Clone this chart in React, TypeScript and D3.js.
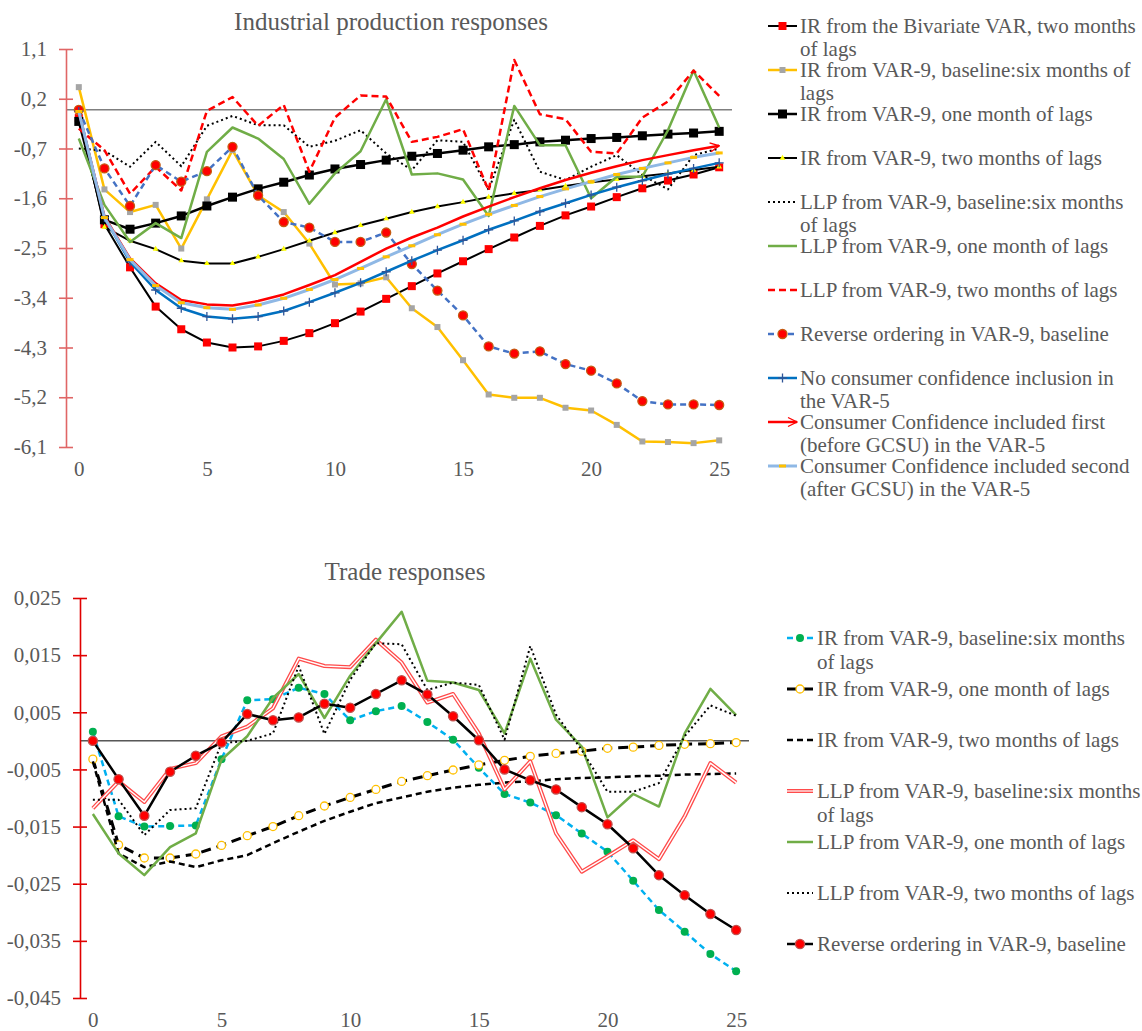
import * as d3 from "d3";
import React, { useEffect, useRef } from "react";

// horizon in months
const horizon = d3.range(0, 26);

// ---- Industrial production responses ----
const ipTicks = [1.1, 0.2, -0.7, -1.6, -2.5, -3.4, -4.3, -5.2, -6.1];
const ipBivariate = [-0.15, -2.07, -2.85, -3.56, -3.97, -4.21, -4.30, -4.28, -4.18, -4.04, -3.86, -3.65, -3.42, -3.19, -2.96, -2.74, -2.52, -2.31, -2.10, -1.91, -1.75, -1.58, -1.42, -1.28, -1.17, -1.04];
const ipVar9Six = [0.41, -1.44, -1.85, -1.72, -2.51, -1.62, -0.73, -1.55, -1.85, -2.42, -3.16, -3.14, -3.03, -3.59, -3.93, -4.53, -5.15, -5.21, -5.21, -5.39, -5.44, -5.70, -6.00, -6.01, -6.03, -5.98];
const ipVar9One = [-0.21, -1.99, -2.16, -2.05, -1.92, -1.74, -1.58, -1.43, -1.31, -1.18, -1.07, -0.99, -0.91, -0.84, -0.79, -0.73, -0.67, -0.63, -0.58, -0.55, -0.52, -0.50, -0.47, -0.44, -0.42, -0.39];
const ipVar9Two = [-0.05, -2.12, -2.37, -2.52, -2.73, -2.78, -2.78, -2.66, -2.52, -2.37, -2.22, -2.09, -1.97, -1.85, -1.75, -1.67, -1.58, -1.51, -1.45, -1.38, -1.31, -1.26, -1.20, -1.15, -1.09, -1.03];
const ipLlpSix = [-0.70, -0.74, -1.03, -0.58, -1.02, -0.29, -0.11, -0.28, -0.28, -0.67, -0.56, -0.37, -0.79, -1.09, -0.55, -0.58, -1.45, -0.18, -1.12, -1.27, -1.03, -0.82, -1.18, -1.44, -0.82, -0.70];
const ipLlpOne = [-0.52, -1.72, -2.39, -2.05, -2.32, -0.76, -0.32, -0.52, -0.89, -1.70, -1.15, -0.75, 0.19, -1.17, -1.15, -1.26, -1.92, 0.07, -0.64, -0.64, -1.60, -1.21, -1.21, -0.37, 0.71, -0.32];
const ipLlpTwo = [-0.34, -0.73, -1.52, -1.03, -1.46, -0.02, 0.23, -0.29, 0.09, -1.12, -0.14, 0.26, 0.24, -0.58, -0.49, -0.35, -1.46, 0.90, -0.08, -0.17, -0.76, -0.79, -0.14, 0.15, 0.71, 0.25];
const ipReverse = [0.0, -1.06, -1.74, -1.00, -1.30, -1.11, -0.67, -1.55, -2.03, -2.13, -2.39, -2.39, -2.22, -2.79, -3.27, -3.72, -4.28, -4.41, -4.37, -4.60, -4.72, -4.95, -5.27, -5.33, -5.33, -5.34];
const ipNoCC = [-0.03, -1.95, -2.75, -3.26, -3.59, -3.74, -3.78, -3.74, -3.64, -3.48, -3.31, -3.13, -2.93, -2.73, -2.54, -2.36, -2.17, -2.01, -1.84, -1.69, -1.54, -1.40, -1.28, -1.16, -1.06, -0.96];
const ipCCFirst = [-0.03, -1.93, -2.69, -3.14, -3.44, -3.52, -3.54, -3.46, -3.34, -3.17, -2.99, -2.75, -2.51, -2.31, -2.13, -1.93, -1.75, -1.58, -1.42, -1.27, -1.14, -1.02, -0.91, -0.82, -0.73, -0.65];
const ipCCSecond = [-0.03, -1.95, -2.71, -3.18, -3.49, -3.58, -3.61, -3.53, -3.41, -3.25, -3.07, -2.87, -2.66, -2.46, -2.26, -2.07, -1.89, -1.73, -1.57, -1.43, -1.30, -1.17, -1.06, -0.96, -0.86, -0.78];

// ---- Trade responses ----
const trTicks = [0.025, 0.015, 0.005, -0.005, -0.015, -0.025, -0.035, -0.045];
const trIrSix = [0.0016, -0.0132, -0.0150, -0.0149, -0.0148, -0.0032, 0.0071, 0.0073, 0.0093, 0.0082, 0.0036, 0.0052, 0.0061, 0.0033, 0.0002, -0.0047, -0.0093, -0.0108, -0.0130, -0.0162, -0.0194, -0.0245, -0.0296, -0.0334, -0.0373, -0.0403];
const trIrOne = [-0.0032, -0.0182, -0.0205, -0.0205, -0.0198, -0.0183, -0.0166, -0.0150, -0.0131, -0.0114, -0.0099, -0.0085, -0.0071, -0.0061, -0.0051, -0.0042, -0.0034, -0.0027, -0.0022, -0.0018, -0.0013, -0.0011, -0.0008, -0.0006, -0.0005, -0.0003];
const trIrTwo = [-0.0036, -0.0197, -0.0221, -0.0211, -0.0221, -0.0209, -0.0200, -0.0179, -0.0159, -0.0140, -0.0124, -0.0109, -0.0099, -0.0089, -0.0082, -0.0077, -0.0073, -0.0071, -0.0067, -0.0065, -0.0064, -0.0062, -0.0061, -0.0059, -0.0058, -0.0057];
const trLlpSix = [-0.0118, -0.0071, -0.0107, -0.0049, -0.0039, 0.0008, 0.0025, 0.0057, 0.0144, 0.0131, 0.0129, 0.0177, 0.0137, 0.0067, 0.0082, 0.0013, -0.0085, -0.0036, -0.0162, -0.0229, -0.0202, -0.0174, -0.0207, -0.0132, -0.0039, -0.0073];
const trLlpOne = [-0.0128, -0.0197, -0.0235, -0.0186, -0.0162, -0.0033, 0.0008, 0.0075, 0.0117, 0.0040, 0.0114, 0.0171, 0.0226, 0.0105, 0.0102, 0.0089, 0.0013, 0.0144, 0.0037, -0.0010, -0.0134, -0.0093, -0.0115, 0.0013, 0.0091, 0.0045];
const trLlpTwo = [-0.0103, -0.0103, -0.0165, -0.0121, -0.0118, -0.0004, 0.0000, 0.0013, 0.0131, 0.0012, 0.0107, 0.0171, 0.0169, 0.0089, 0.0102, 0.0098, 0.0002, 0.0166, 0.0046, -0.0016, -0.0089, -0.0089, -0.0074, 0.0008, 0.0062, 0.0044];
const trReverse = [0.0, -0.0067, -0.0131, -0.0054, -0.0026, -0.0003, 0.0047, 0.0036, 0.0041, 0.0065, 0.0058, 0.0082, 0.0106, 0.0081, 0.0043, 0.0001, -0.0050, -0.0069, -0.0085, -0.0116, -0.0146, -0.0188, -0.0235, -0.0270, -0.0303, -0.0331];

const xTicks = [0, 5, 10, 15, 20, 25];

const FONT = "'Liberation Serif', 'Times New Roman', serif";
const TEXT = "#595959";

type Series = {
  label: string[];
  values: number[];
  color: string;
  width: number;
  dash?: string;
  compound?: boolean;
  arrow?: boolean;
  marker?: { type: string; size: number; fill: string; stroke?: string };
};

const ipSeries: Series[] = [
  { label: ["IR from the Bivariate VAR, two months", "of lags"], values: ipBivariate, color: "#000000", width: 2, marker: { type: "square", size: 8, fill: "#FF0000" } },
  { label: ["IR from VAR-9, baseline:six months of", "lags"], values: ipVar9Six, color: "#FFC000", width: 2.5, marker: { type: "square", size: 6, fill: "#A5A5A5" } },
  { label: ["IR from VAR-9, one month of lags"], values: ipVar9One, color: "#000000", width: 2.5, marker: { type: "square", size: 9, fill: "#000000" } },
  { label: ["IR from VAR-9, two months of lags"], values: ipVar9Two, color: "#000000", width: 2, marker: { type: "triangle", size: 14, fill: "#FFFF00" } },
  { label: ["LLP from VAR-9, baseline:six months", "of lags"], values: ipLlpSix, color: "#000000", width: 2, dash: "2,3" },
  { label: ["LLP from VAR-9, one month of lags"], values: ipLlpOne, color: "#70AD47", width: 2.5 },
  { label: ["LLP from VAR-9, two months of lags"], values: ipLlpTwo, color: "#FF0000", width: 2.5, dash: "7,4" },
  { label: ["Reverse ordering in VAR-9, baseline"], values: ipReverse, color: "#4472C4", width: 2.5, dash: "6,4", marker: { type: "circle", size: 4.5, fill: "#FF0000", stroke: "#C55A11" } },
  { label: ["No consumer confidence inclusion in", "the VAR-5"], values: ipNoCC, color: "#0070C0", width: 2.5, marker: { type: "plus", size: 4.5, fill: "none", stroke: "#2F5597" } },
  { label: ["Consumer Confidence included first", "(before GCSU) in the VAR-5"], values: ipCCFirst, color: "#FF0000", width: 2.5, arrow: true },
  { label: ["Consumer Confidence included second", "(after GCSU) in the VAR-5"], values: ipCCSecond, color: "#8FB8E5", width: 3, marker: { type: "dash", size: 7, fill: "#FFC000" } },
];

const trSeries: Series[] = [
  { label: ["IR from VAR-9, baseline:six months", "of lags"], values: trIrSix, color: "#00B0F0", width: 2.5, dash: "6,4", marker: { type: "circle", size: 4, fill: "#00B050" } },
  { label: ["IR from VAR-9, one month of lags"], values: trIrOne, color: "#000000", width: 3, dash: "10,6", marker: { type: "circle", size: 4, fill: "#FFFFFF", stroke: "#FFC000" } },
  { label: ["IR from VAR-9, two months of lags"], values: trIrTwo, color: "#000000", width: 2.5, dash: "6,4" },
  { label: ["LLP from VAR-9, baseline:six months", "of lags"], values: trLlpSix, color: "#FF4B4B", width: 4, compound: true },
  { label: ["LLP from VAR-9, one month of lags"], values: trLlpOne, color: "#70AD47", width: 2.5 },
  { label: ["LLP from VAR-9, two months of lags"], values: trLlpTwo, color: "#000000", width: 2, dash: "2,3" },
  { label: ["Reverse ordering in VAR-9, baseline"], values: trReverse, color: "#000000", width: 2.5, marker: { type: "circle", size: 4.6, fill: "#FF0000", stroke: "#C0504D" } },
];

function drawMarker(g, type, cx, cy, m) {
  if (type === "square") {
    g.append("rect").attr("x", cx - m.size / 2).attr("y", cy - m.size / 2)
      .attr("width", m.size).attr("height", m.size).attr("fill", m.fill);
  } else if (type === "circle") {
    g.append("circle").attr("cx", cx).attr("cy", cy).attr("r", m.size)
      .attr("fill", m.fill).attr("stroke", m.stroke || "none").attr("stroke-width", 1.3);
  } else if (type === "triangle") {
    g.append("path").attr("d", d3.symbol(d3.symbolTriangle, m.size)())
      .attr("transform", `translate(${cx},${cy})`).attr("fill", m.fill);
  } else if (type === "plus") {
    g.append("path").attr("d", `M${cx - m.size},${cy}H${cx + m.size}M${cx},${cy - m.size}V${cy + m.size}`)
      .attr("stroke", m.stroke).attr("stroke-width", 1.3);
  } else if (type === "dash") {
    g.append("rect").attr("x", cx - m.size / 2).attr("y", cy - 1.5)
      .attr("width", m.size).attr("height", 3).attr("fill", m.fill);
  }
}

function strokeLine(sel, s: Series) {
  sel.attr("fill", "none").attr("stroke", s.color).attr("stroke-width", s.width)
    .attr("stroke-linejoin", "round")
    .attr("stroke-dasharray", s.dash || null);
  if (s.arrow) sel.attr("marker-end", "url(#arrowRed)");
  return sel;
}

function drawPanel(svg, cfg) {
  const { series, ticks, fmt, title, titleX, titleY, xRange, yRange, yDomain, axisColor, zeroColor, zeroWidth, legend } = cfg;

  const x = d3.scaleLinear().domain([-0.5, 25.5]).range(xRange);
  const y = d3.scaleLinear().domain(yDomain).range(yRange);

  svg.append("text")
    .attr("x", titleX).attr("y", titleY)
    .attr("text-anchor", "middle")
    .attr("fill", TEXT).style("font-family", FONT).style("font-size", "25px")
    .text(title);

  // zero line
  svg.append("line")
    .attr("x1", xRange[0]).attr("x2", xRange[1])
    .attr("y1", y(0)).attr("y2", y(0))
    .attr("stroke", zeroColor).attr("stroke-width", zeroWidth);

  // y axis with ticks crossing the line
  const yAxis = svg.append("g")
    .attr("transform", `translate(${xRange[0]},0)`)
    .call(d3.axisLeft(y).tickValues(ticks).tickFormat(fmt).tickSize(6).tickSizeOuter(0).tickPadding(13));
  yAxis.attr("font-family", FONT).attr("font-size", 21);
  yAxis.select(".domain").attr("stroke", axisColor).attr("stroke-width", 1.6);
  yAxis.selectAll(".tick line").attr("x1", -7).attr("x2", 7).attr("stroke", axisColor).attr("stroke-width", 1.6);
  yAxis.selectAll(".tick text").attr("fill", TEXT);

  // x axis labels only
  const xAxis = svg.append("g")
    .attr("transform", `translate(0,${yRange[0]})`)
    .call(d3.axisBottom(x).tickValues(xTicks).tickFormat(d3.format("d")).tickSize(0).tickPadding(14));
  xAxis.attr("font-family", FONT).attr("font-size", 21);
  xAxis.select(".domain").remove();
  xAxis.selectAll(".tick text").attr("fill", TEXT);

  const line = d3.line<number>().x((d, i) => x(horizon[i])).y((d) => y(d));

  series.forEach((s: Series) => {
    const g = svg.append("g");
    strokeLine(g.append("path").attr("d", line(s.values)), s);
    if (s.compound) {
      g.append("path").attr("d", line(s.values)).attr("fill", "none")
        .attr("stroke", "#FFFFFF").attr("stroke-width", 1.4).attr("stroke-linejoin", "round");
    }
    if (s.marker) {
      s.values.forEach((v, i) => drawMarker(g, s.marker.type, x(horizon[i]), y(v), s.marker));
    }
  });

  // legend
  const lg = svg.append("g");
  series.forEach((s: Series, i) => {
    const cy = legend.y0 + i * legend.step;
    const x0 = legend.sx0, x1 = legend.sx1;
    const p = lg.append("path").attr("d", `M${x0},${cy}H${x1}`);
    strokeLine(p, s);
    if (s.compound) {
      lg.append("path").attr("d", `M${x0},${cy}H${x1}`).attr("stroke", "#FFFFFF").attr("stroke-width", 1.2);
    }
    if (s.marker) drawMarker(lg, s.marker.type, (x0 + x1) / 2, cy, s.marker);
    const t = lg.append("text")
      .attr("x", legend.tx).attr("y", cy)
      .attr("fill", TEXT).style("font-family", FONT).style("font-size", "21px");
    s.label.forEach((l, j) => {
      t.append("tspan").attr("x", legend.tx).attr("y", cy + j * legend.lineH).attr("dy", "0.34em").text(l);
    });
  });
}

export default function App() {
  const svgRef = useRef<SVGSVGElement>(null);

  useEffect(() => {
    const svg = d3.select(svgRef.current);
    svg.selectAll("*").remove();

    const locale = d3.formatLocale({ decimal: ",", thousands: " ", grouping: [3], currency: ["", ""], minus: "-" });

    svg.append("defs").append("marker")
      .attr("id", "arrowRed")
      .attr("viewBox", "0 0 10 10")
      .attr("refX", 9).attr("refY", 5)
      .attr("markerWidth", 4.5).attr("markerHeight", 4.5)
      .attr("orient", "auto")
      .append("path").attr("d", "M1,1L9,5L1,9")
      .attr("fill", "none").attr("stroke", "#FF0000").attr("stroke-width", 1.2);

    drawPanel(svg, {
      series: ipSeries,
      ticks: ipTicks,
      fmt: locale.format(".1f"),
      title: "Industrial production responses",
      titleX: 391, titleY: 30,
      xRange: [66, 732],
      yRange: [447, 49],
      yDomain: [-6.1, 1.1],
      axisColor: "#E06666",
      zeroColor: "#7F7F7F",
      zeroWidth: 1.5,
      legend: { y0: 26, step: 44, lineH: 22.5, sx0: 768, sx1: 797, tx: 800 },
    });

    drawPanel(svg, {
      series: trSeries,
      ticks: trTicks,
      fmt: locale.format(".3f"),
      title: "Trade responses",
      titleX: 405, titleY: 580,
      xRange: [80, 749],
      yRange: [998, 598],
      yDomain: [-0.045, 0.025],
      axisColor: "#E00000",
      zeroColor: "#000000",
      zeroWidth: 1,
      legend: { y0: 638, step: 51, lineH: 23.5, sx0: 787, sx1: 813, tx: 817 },
    });

    return () => {
      svg.selectAll("*").remove();
    };
  }, []);

  return (
    <svg
      ref={svgRef}
      width={1142}
      height={1031}
      style={{ position: "absolute", left: 0, top: 0, background: "#FFFFFF" }}
    />
  );
}
